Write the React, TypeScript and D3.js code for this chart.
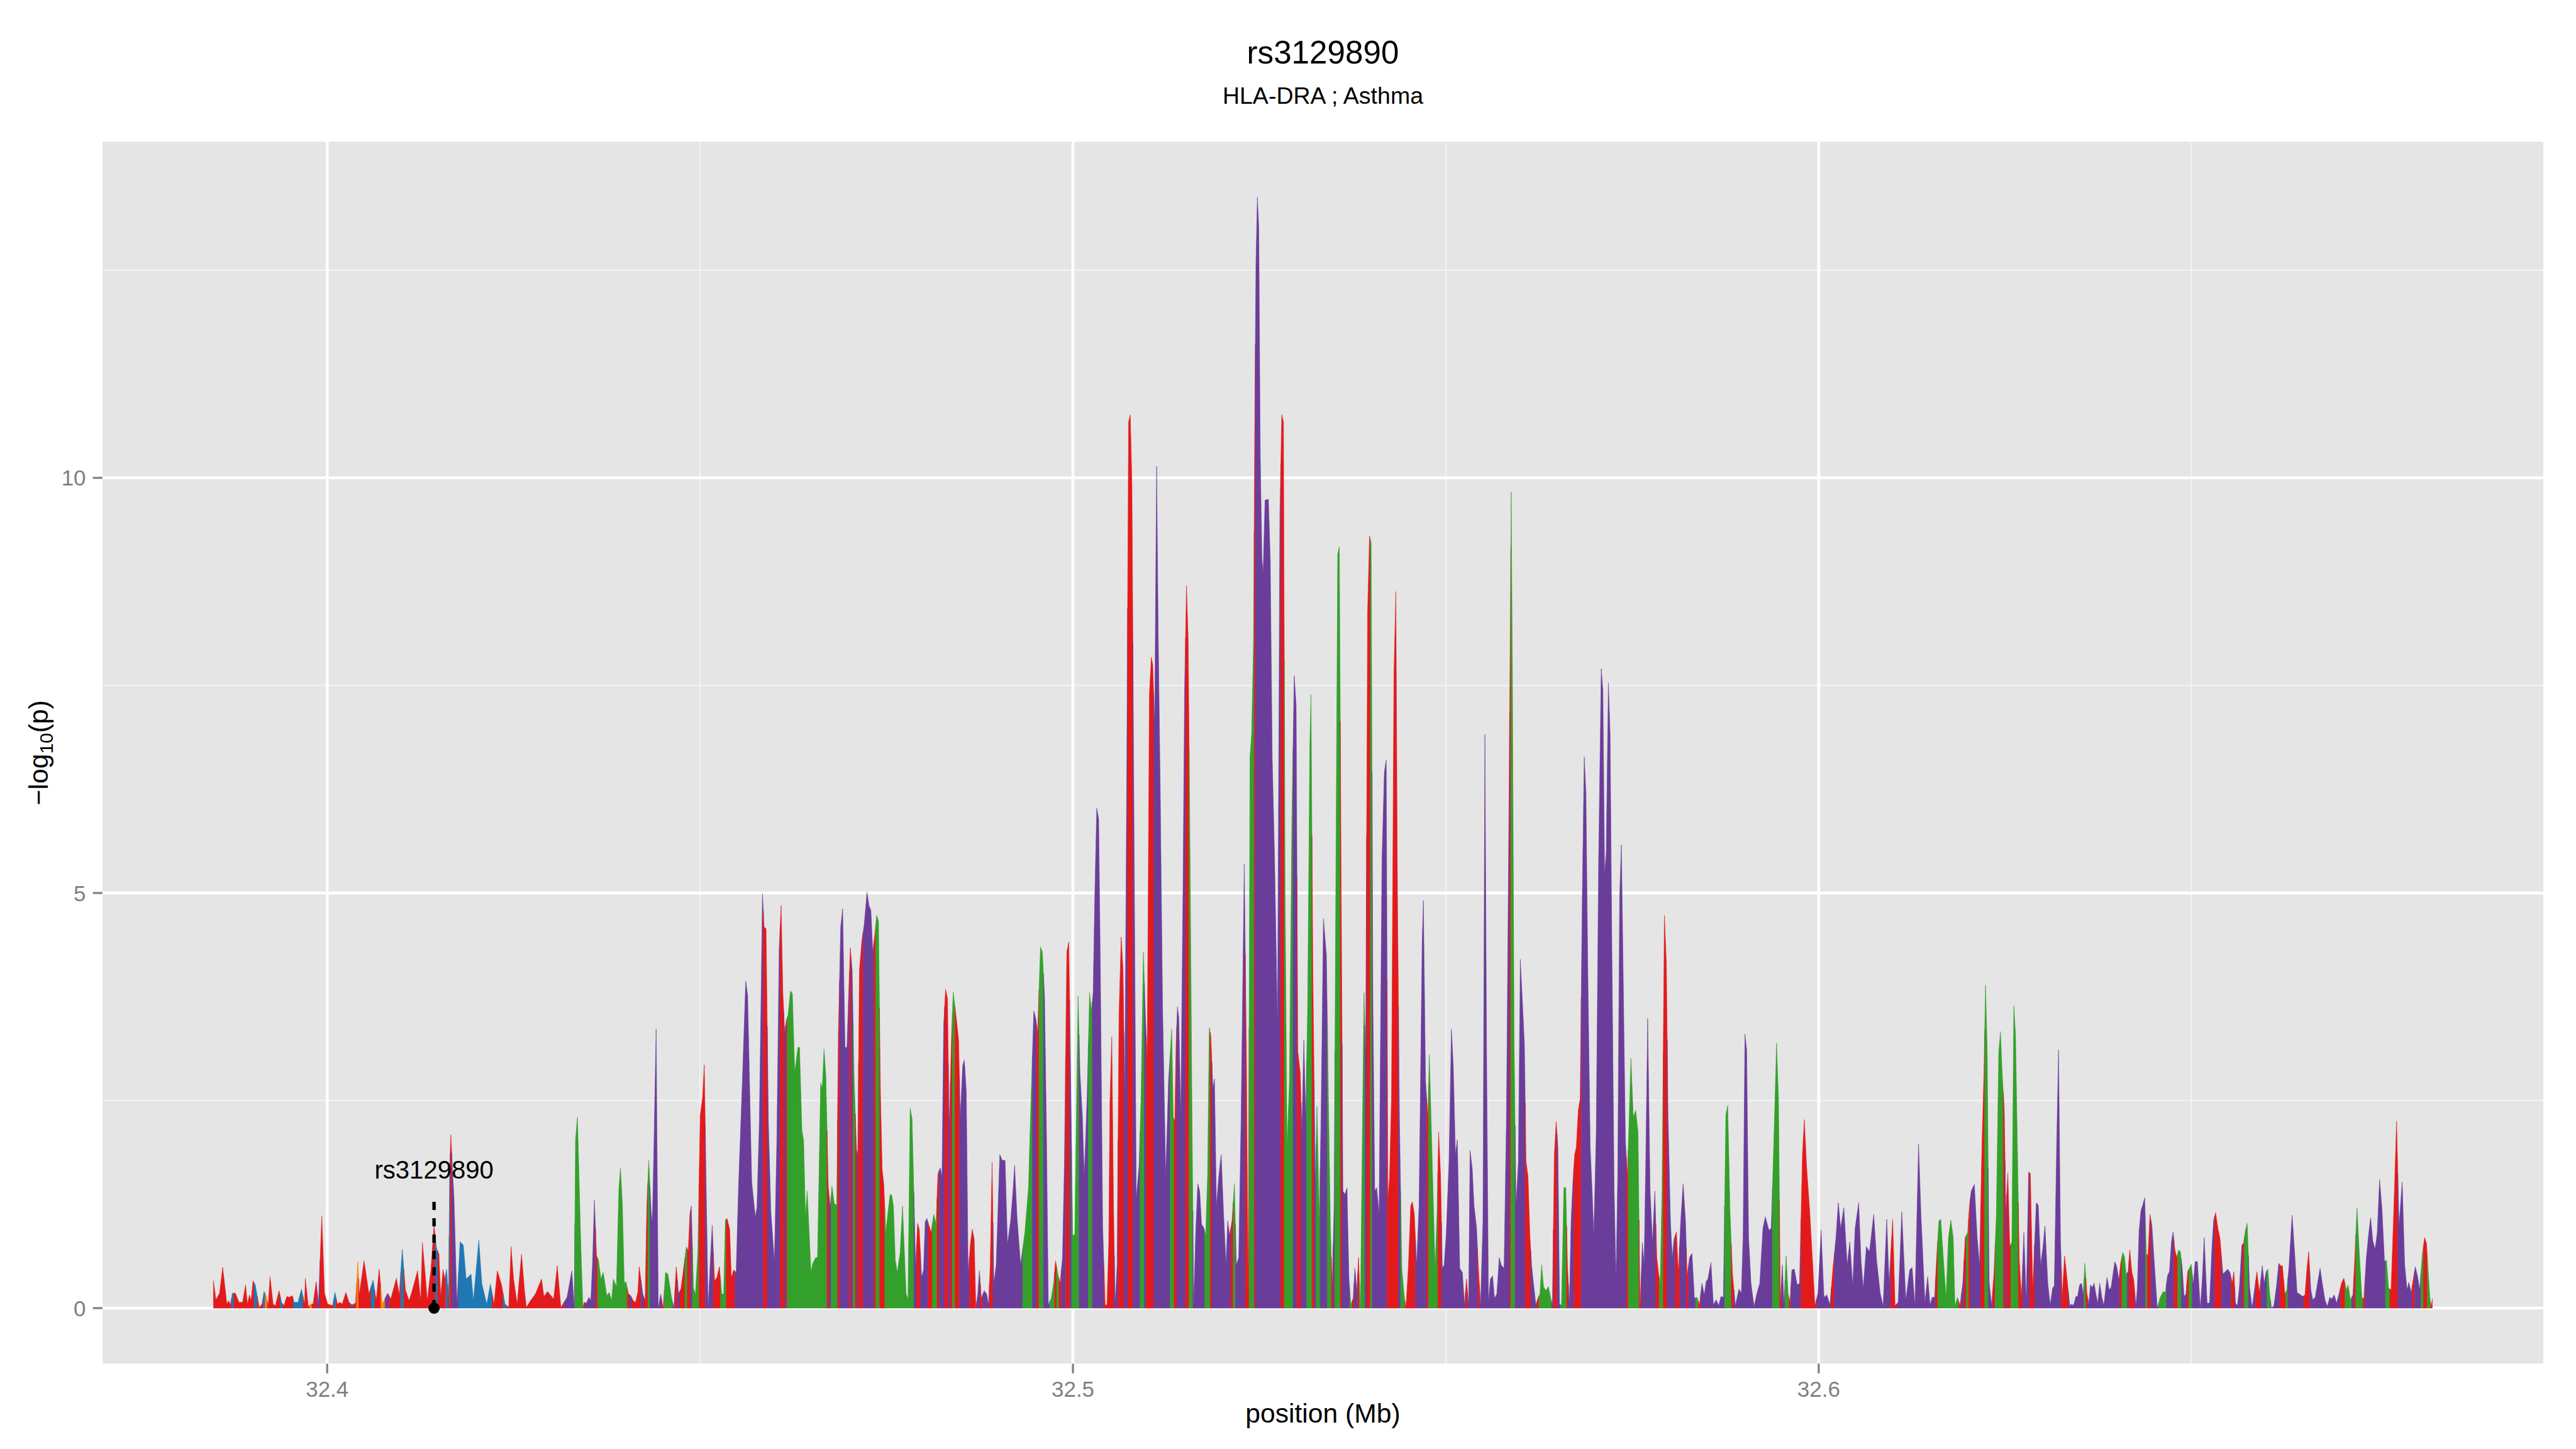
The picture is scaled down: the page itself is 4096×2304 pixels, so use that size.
import React from "react";
import * as d3 from "d3";

type Snp = [number, number, string];

// position (Mb), -log10(p), LD colour class
const regionA: Snp[] = [
  [32.38475,0.33,"R"],[32.38508,0.10,"R"],[32.38557,0.18,"R"],[32.38599,0.49,"R"],[32.38655,0.05,"R"],[32.38681,0.09,"R"],[32.38703,0.04,"R"],[32.38729,0.18,"B"],[32.38769,0.18,"R"],[32.38817,0.07,"R"],[32.38866,0.07,"R"],[32.38905,0.28,"R"],[32.38931,0.05,"R"],[32.38957,0.16,"R"],[32.3898,0.09,"R"],[32.39006,0.33,"R"],[32.39036,0.28,"B"],[32.39088,0.01,"R"],[32.39127,0.05,"R"],[32.39153,0.20,"B"],[32.39186,0.14,"O"],[32.39208,0.02,"R"],[32.39234,0.38,"R"],[32.39274,0.05,"R"],[32.39306,0.03,"R"],[32.39355,0.21,"R"],[32.39388,0.07,"B"],[32.3942,0.03,"R"],[32.39459,0.14,"R"],[32.39492,0.13,"R"],[32.39534,0.15,"R"],[32.39557,0.07,"B"],[32.39609,0.07,"B"],[32.39655,0.23,"B"],[32.39697,0.05,"R"],[32.39707,0.36,"R"],[32.39746,0.02,"R"],[32.39779,0.05,"O"],[32.39811,0.05,"R"],[32.39853,0.32,"R"],[32.39883,0.05,"P"],[32.39928,1.11,"R"],[32.39964,0.18,"R"],[32.40007,0.05,"R"],[32.40039,0.04,"R"],[32.40072,0.03,"R"],[32.40104,0.19,"B"],[32.40137,0.05,"R"],[32.40169,0.07,"R"],[32.40202,0.05,"R"],[32.40251,0.19,"R"],[32.40293,0.07,"R"],[32.40332,0.04,"P"],[32.40381,0.06,"R"],[32.40411,0.56,"O"],[32.4043,0.16,"R"],[32.40495,0.57,"R"],[32.4056,0.17,"R"],[32.40616,0.34,"B"],[32.40658,0.09,"R"],[32.40697,0.47,"R"],[32.4074,0.05,"O"],[32.40811,0.18,"P"],[32.40853,0.11,"R"],[32.40928,0.36,"R"],[32.40967,0.16,"R"],[32.41007,0.71,"B"],[32.41049,0.22,"R"],[32.41098,0.09,"R"],[32.41131,0.18,"R"],[32.41212,0.45,"R"],[32.41254,0.09,"R"],[32.41277,0.79,"R"],[32.41316,0.39,"R"],[32.41342,0.09,"R"],[32.41391,0.46,"R"],[32.41433,1.0,"R"],[32.41466,0.72,"B"],[32.41499,0.65,"R"],[32.41522,0.14,"R"],[32.41554,0.47,"R"],[32.41577,0.35,"R"],[32.41603,0.47,"B"],[32.41629,0.09,"R"],[32.41642,1.65,"B"],[32.41658,2.09,"R"],[32.41681,1.65,"P"],[32.41701,1.32,"P"],[32.4174,0.05,"P"],[32.41782,0.8,"B"],[32.41825,0.76,"B"],[32.41864,0.35,"B"],[32.41929,0.41,"B"],[32.41961,0.09,"B"],[32.42033,0.82,"B"],[32.42075,0.29,"B"],[32.4214,0.05,"B"],[32.42189,0.29,"B"],[32.42238,0.05,"R"],[32.42281,0.45,"R"],[32.42336,0.29,"R"],[32.42385,0.05,"B"],[32.42434,0.01,"R"],[32.42466,0.74,"R"],[32.42499,0.35,"R"],[32.42548,0.05,"R"],[32.42606,0.65,"R"],[32.42645,0.22,"R"],[32.42671,0.01,"R"],[32.42727,0.09,"R"],[32.42792,0.17,"R"],[32.42874,0.35,"R"],[32.42906,0.14,"R"],[32.42955,0.20,"R"],[32.43037,0.11,"R"],[32.43085,0.51,"R"],[32.43134,0.01,"R"],[32.43216,0.13,"P"],[32.43281,0.45,"P"],[32.43313,0.01,"P"],[32.4333,2.03,"G"],[32.43356,2.3,"G"],[32.43401,0.78,"G"],
];

const regionB: Snp[] = [
  [32.43429,0.0,"G"],[32.43445,0.07,"R"],[32.43477,0.06,"P"],[32.43509,0.13,"P"],[32.43535,0.09,"P"],[32.43558,0.54,"P"],[32.43583,1.30,"P"],[32.43612,0.63,"R"],[32.43638,0.58,"G"],[32.4367,0.35,"G"],[32.43702,0.43,"G"],[32.4375,0.15,"G"],[32.43782,0.19,"G"],[32.43814,0.09,"G"],[32.43837,0.35,"G"],[32.43879,0.26,"G"],[32.43911,1.43,"G"],[32.43933,1.69,"G"],[32.43959,1.24,"G"],[32.43984,0.30,"G"],[32.44007,0.32,"G"],[32.44039,0.17,"R"],[32.44071,0.15,"P"],[32.44103,0.09,"R"],[32.44135,0.07,"R"],[32.44167,0.20,"R"],[32.44184,0.50,"R"],[32.44232,0.17,"P"],[32.44264,0.09,"R"],[32.44286,1.23,"R"],[32.44312,1.78,"G"],[32.44344,1.17,"P"],[32.4436,1.02,"P"],[32.44383,2.02,"P"],[32.44411,3.36,"P"],[32.4444,0.0,"P"],[32.44472,0.17,"P"],[32.44505,0.0,"R"],[32.44537,0.43,"G"],[32.44569,0.41,"G"],[32.44617,0.13,"G"],[32.44649,0.0,"P"],[32.44681,0.50,"R"],[32.44713,0.17,"P"],[32.44745,0.24,"R"],[32.44777,0.46,"R"],[32.44816,0.74,"G"],[32.44842,0.69,"R"],[32.44864,1.13,"R"],[32.44883,1.23,"P"],[32.44912,0.24,"G"],[32.44938,0.17,"G"],[32.4497,0.67,"G"],[32.45002,2.32,"R"],[32.45034,2.54,"R"],[32.45057,2.93,"R"],[32.45082,1.47,"P"],[32.45108,0.0,"P"],[32.4514,0.61,"P"],[32.45163,1.0,"P"],[32.45195,0.33,"R"],[32.45227,0.37,"R"],[32.45259,0.50,"R"],[32.45291,0.17,"G"],[32.45317,0.17,"G"],[32.45339,1.06,"G"],[32.45362,1.08,"R"],[32.45397,0.95,"R"],[32.45419,0.37,"R"],[32.45451,0.46,"R"],[32.45484,0.43,"P"],[32.45516,1.47,"P"],[32.45564,2.65,"P"],[32.45612,3.94,"P"],[32.45638,3.77,"P"],[32.45667,2.58,"P"],[32.45693,1.52,"P"],[32.45741,1.10,"P"],[32.45763,1.21,"P"],[32.45795,2.25,"P"],[32.45837,4.99,"P"],[32.45859,4.59,"R"],[32.45885,4.57,"R"],[32.45917,2.21,"P"],[32.45949,1.17,"P"],[32.45997,0.56,"P"],[32.46029,1.99,"P"],[32.46061,4.33,"P"],[32.46087,4.85,"R"],[32.4611,3.81,"R"],[32.46135,3.32,"P"],[32.46158,3.47,"R"],[32.4618,3.53,"G"],[32.46212,3.82,"G"],[32.46238,3.79,"G"],[32.4627,2.84,"G"],[32.46312,3.14,"G"],[32.46334,3.14,"G"],[32.46366,2.14,"G"],[32.46389,2.02,"G"],[32.46414,1.10,"G"],[32.46437,1.41,"G"],[32.46488,0.43,"G"],[32.46511,0.54,"G"],[32.46552,0.61,"G"],[32.46575,0.61,"G"],[32.46617,2.71,"G"],[32.46639,2.65,"G"],[32.46662,3.12,"G"],[32.46687,2.80,"G"],[32.46719,1.47,"R"],[32.46745,1.21,"P"],[32.46768,1.47,"G"],[32.468,1.26,"G"],[32.46832,1.24,"G"],[32.46854,3.29,"R"],[32.46886,4.59,"P"],[32.46912,4.81,"P"],[32.46944,3.14,"P"],[32.4697,3.14,"P"],[32.46992,3.77,"P"],[32.47015,4.34,"R"],[32.4704,4.07,"P"],[32.47066,2.77,"G"],[32.47098,1.91,"R"],[32.47114,1.84,"P"],[32.47137,4.07,"R"],[32.47169,4.42,"R"],[32.47201,4.62,"P"],[32.47239,5.01,"P"],[32.47265,4.85,"P"],[32.47291,4.79,"P"],[32.47316,4.29,"P"],[32.47345,4.51,"R"],[32.47368,4.73,"G"],[32.47393,4.66,"G"],[32.47419,2.58,"R"],[32.47442,1.67,"R"],[32.47464,1.49,"R"],[32.4749,0.91,"G"],[32.47522,1.17,"G"],[32.47548,1.37,"G"],[32.4757,1.36,"G"],[32.47593,1.23,"G"],[32.47618,0.58,"G"],[32.47644,0.43,"G"],[32.47683,0.67,"G"],[32.47715,1.23,"G"],[32.47763,0.17,"G"],[32.47788,0.11,"G"],[32.47817,2.41,"G"],[32.47843,2.28,"G"],[32.47891,0.50,"P"],[32.47917,1.02,"R"],[32.47939,0.95,"R"],[32.47971,0.37,"P"],[32.47997,0.46,"P"],[32.48019,1.04,"P"],[32.48042,1.08,"P"],[32.48074,0.98,"R"],[32.481,0.91,"R"],[32.48132,1.13,"G"],[32.48164,1.02,"G"],[32.4819,1.62,"R"],[32.48222,1.69,"P"],[32.48244,1.58,"P"],[32.48267,3.42,"P"],[32.48292,3.84,"R"],[32.48318,3.73,"R"],[32.4834,2.17,"P"],[32.48373,3.29,"R"],[32.48395,3.81,"G"],
];

const regionC: Snp[] = [
  [32.48441,3.45,"R"],[32.48467,3.23,"R"],[32.48489,2.30,"P"],[32.48522,2.92,"P"],[32.48544,2.99,"P"],[32.4857,2.61,"P"],[32.48595,0.43,"P"],[32.48627,0.79,"R"],[32.4865,0.95,"R"],[32.48676,0.83,"R"],[32.48698,0.0,"R"],[32.48724,0.17,"P"],[32.48746,0.45,"P"],[32.48772,0.12,"R"],[32.4881,0.21,"P"],[32.48843,0.17,"P"],[32.48868,0.04,"P"],[32.48891,0.52,"R"],[32.48916,1.76,"R"],[32.48939,0.30,"P"],[32.48971,0.52,"P"],[32.49019,1.85,"P"],[32.49051,1.78,"P"],[32.4909,1.78,"P"],[32.49122,0.77,"P"],[32.49164,1.05,"P"],[32.49196,1.41,"P"],[32.49218,1.72,"P"],[32.4925,1.10,"P"],[32.49298,0.52,"P"],[32.49356,0.92,"G"],[32.49404,1.45,"G"],[32.49436,2.47,"G"],[32.49475,3.58,"P"],[32.49501,3.49,"P"],[32.49526,3.32,"R"],[32.49565,4.35,"G"],[32.4959,4.29,"G"],[32.49619,3.76,"P"],[32.49645,2.12,"P"],[32.4967,0.04,"P"],[32.49709,0.12,"G"],[32.49741,0.30,"G"],[32.49767,0.57,"R"],[32.49796,0.42,"G"],[32.49828,0.30,"R"],[32.4986,0.61,"P"],[32.49886,1.76,"P"],[32.49918,4.29,"R"],[32.49944,4.41,"R"],[32.49966,3.01,"P"],[32.49998,0.88,"G"],[32.50024,0.88,"G"],[32.50046,2.30,"G"],[32.50069,3.76,"G"],[32.50094,2.83,"P"],[32.50127,2.30,"P"],[32.50152,1.59,"P"],[32.50191,2.56,"P"],[32.50223,3.80,"G"],[32.50249,3.58,"G"],[32.50271,3.80,"P"],[32.50293,4.96,"P"],[32.50319,6.02,"P"],[32.50345,5.89,"P"],[32.50367,4.16,"P"],[32.50399,0.97,"P"],[32.50432,0.04,"R"],[32.50457,0.04,"R"],[32.5048,0.79,"R"],[32.50496,2.47,"R"],[32.50521,3.27,"R"],[32.50544,1.23,"R"],[32.50566,0.04,"P"],[32.50592,0.52,"P"],[32.50618,3.54,"R"],[32.50647,4.47,"R"],[32.50672,4.07,"R"],[32.50695,2.56,"P"],[32.5072,6.20,"P"],[32.50746,10.67,"R"],[32.50769,10.76,"R"],[32.50791,9.92,"R"],[32.50817,6.11,"P"],[32.50849,1.32,"P"],[32.50887,1.72,"P"],[32.50913,2.52,"G"],[32.50945,4.29,"G"],[32.50971,3.54,"P"],[32.50996,3.01,"R"],[32.51025,7.39,"R"],[32.51051,7.84,"R"],[32.5107,7.75,"R"],[32.51096,7.04,"P"],[32.51122,10.14,"P"],[32.51144,8.06,"P"],[32.5117,6.29,"P"],[32.51202,3.63,"P"],[32.51244,1.59,"P"],[32.51282,2.74,"P"],[32.51324,3.36,"G"],[32.51346,2.30,"G"],[32.51366,2.25,"R"],[32.51382,3.14,"R"],[32.51401,3.63,"P"],[32.5142,3.49,"P"],[32.51446,2.30,"P"],[32.51475,4.96,"P"],[32.51497,7.44,"P"],[32.51523,8.70,"R"],[32.51545,8.06,"R"],[32.51571,5.40,"G"],[32.51597,2.30,"G"],[32.51619,0.04,"P"],[32.51645,0.88,"P"],[32.51674,1.50,"P"],[32.51699,1.41,"P"],[32.51725,1.01,"P"],[32.51754,0.97,"P"],[32.5178,0.88,"G"],[32.51805,1.59,"G"],[32.51828,3.38,"G"],[32.5185,3.27,"R"],[32.51876,2.65,"P"],[32.51898,2.76,"P"],[32.51924,1.23,"P"],[32.51956,1.59,"P"],[32.51988,1.85,"P"],[32.5202,1.14,"P"],[32.52053,0.52,"P"],[32.52075,1.05,"P"],[32.52101,0.88,"P"],[32.52133,1.05,"R"],[32.52165,1.50,"G"],[32.52191,0.52,"P"],[32.52223,0.61,"P"],[32.52255,2.30,"P"],[32.52297,5.35,"P"],[32.52325,3.18,"R"],[32.52351,0.12,"R"],[32.52374,6.64,"G"],[32.52396,6.91,"G"],[32.52422,8.06,"G"],[32.52438,10.63,"R"],[32.52454,12.58,"P"],[32.52473,13.38,"P"],[32.52492,13.02,"P"],[32.52512,10.27,"P"],[32.52534,9.03,"P"],[32.5255,8.86,"P"],[32.52576,9.73,"P"],[32.52598,9.74,"P"],[32.52621,9.74,"P"],[32.52646,9.03,"P"],[32.52672,6.64,"P"],[32.52704,5.40,"P"],[32.52743,3.40,"P"],[32.52775,9.57,"P"],[32.528,10.76,"R"],[32.52823,10.67,"R"],[32.52845,4.96,"G"],[32.52871,1.94,"G"],[32.52903,2.74,"G"],[32.52935,5.84,"G"],[32.52967,7.62,"P"],[32.52993,7.26,"P"],[32.53016,3.09,"R"],[32.53048,2.83,"R"],[32.5307,2.12,"P"],[32.53096,3.23,"P"],[32.53121,2.30,"P"],[32.53147,3.63,"G"],[32.53176,6.77,"G"],[32.53192,7.39,"G"],[32.53218,3.98,"R"],[32.5325,1.50,"P"],[32.53272,2.43,"G"],[32.53304,1.05,"G"],[32.53327,2.30,"P"],[32.53359,4.69,"P"],
];

const regionD: Snp[] = [
  [32.53399,4.25,"P"],[32.53425,2.56,"G"],[32.53453,0.97,"G"],[32.53476,0.26,"R"],[32.53502,1.23,"P"],[32.53524,4.96,"G"],[32.5355,9.08,"G"],[32.53572,9.17,"G"],[32.53598,4.96,"R"],[32.5362,1.41,"P"],[32.53646,1.37,"P"],[32.53675,1.45,"P"],[32.53701,0.35,"P"],[32.53726,0.04,"G"],[32.53758,0.12,"R"],[32.53781,0.48,"P"],[32.53807,0.21,"P"],[32.53829,0.61,"R"],[32.53855,0.0,"G"],[32.5388,2.03,"G"],[32.53903,3.80,"G"],[32.53925,3.01,"P"],[32.53951,8.37,"R"],[32.53977,9.30,"R"],[32.53999,9.21,"G"],[32.54022,3.71,"P"],[32.54047,1.41,"P"],[32.54073,1.45,"P"],[32.54105,1.14,"P"],[32.54144,5.40,"P"],[32.54176,6.46,"P"],[32.54201,6.60,"P"],[32.54224,1.32,"R"],[32.54246,1.59,"R"],[32.54272,2.56,"R"],[32.54304,7.62,"R"],[32.5433,8.63,"R"],[32.54352,4.96,"R"],[32.54378,2.30,"P"],[32.5441,0.48,"G"],[32.54439,0.17,"G"],[32.54465,0.0,"R"],[32.54497,0.48,"R"],[32.54529,1.23,"R"],[32.54551,1.28,"R"],[32.54577,1.14,"R"],[32.54609,0.52,"P"],[32.54641,1.23,"P"],[32.54683,4.42,"P"],[32.54699,4.91,"P"],[32.54728,2.74,"P"],[32.5476,2.30,"R"],[32.54779,3.05,"G"],[32.54802,2.30,"G"],[32.54834,1.23,"G"],[32.54856,0.48,"G"],[32.54882,1.14,"G"],[32.54904,2.12,"R"],[32.5493,1.59,"R"],[32.54953,0.48,"P"],[32.54978,0.52,"P"],[32.55004,0.88,"P"],[32.55043,1.76,"P"],[32.55075,3.36,"P"],[32.551,2.92,"P"],[32.55129,1.85,"P"],[32.55155,2.03,"P"],[32.55187,0.48,"P"],[32.55222,0.43,"P"],[32.55251,0.04,"P"],[32.55277,0.35,"R"],[32.55306,0.04,"P"],[32.55325,1.90,"P"],[32.55354,1.68,"P"],[32.55379,1.23,"P"],[32.55412,0.97,"P"],[32.55437,0.48,"R"],[32.55466,0.04,"P"],[32.55498,1.05,"P"],[32.55524,6.91,"P"],[32.55546,3.18,"P"],[32.55572,0.08,"P"],[32.55598,0.35,"P"],[32.55627,0.39,"P"],[32.55652,0.12,"P"],[32.55684,0.17,"P"],[32.55717,0.61,"P"],[32.55742,0.52,"P"],[32.55781,0.48,"P"],[32.55813,2.30,"P"],[32.55845,5.84,"P"],[32.55867,8.50,"R"],[32.55877,9.83,"G"],[32.55893,7.62,"G"],[32.55916,3.18,"G"],[32.55941,1.23,"P"],[32.55973,1.76,"P"],[32.55999,4.20,"P"],[32.56021,3.80,"P"],[32.56054,3.18,"P"],[32.56076,1.76,"R"],[32.56102,1.59,"R"],[32.56127,0.88,"R"],[32.5615,0.52,"P"],[32.56175,0.30,"P"],[32.56208,0.04,"P"],[32.56236,0.12,"R"],[32.56262,0.17,"G"],[32.56285,0.52,"G"],[32.5631,0.26,"G"],[32.56342,0.21,"G"],[32.56375,0.26,"G"],[32.56407,0.12,"G"],[32.56429,0.04,"P"],[32.56455,1.85,"R"],[32.5648,2.25,"R"],[32.56503,1.94,"P"],[32.56525,0.04,"P"],[32.56551,0.04,"G"],[32.56583,1.45,"G"],[32.56609,1.45,"G"],[32.56631,0.52,"R"],[32.56657,0.04,"P"],[32.5668,1.05,"P"],[32.56705,1.54,"P"],[32.56728,1.85,"R"],[32.5675,1.94,"R"],[32.56776,2.38,"R"],[32.56801,2.52,"R"],[32.5683,4.96,"P"],[32.56856,6.64,"P"],[32.56879,6.20,"P"],[32.56904,4.07,"P"],[32.56936,1.94,"P"],[32.56962,1.41,"P"],[32.56984,0.88,"P"],[32.57017,2.12,"P"],[32.57049,5.40,"P"],[32.57084,7.70,"P"],[32.57106,7.44,"P"],[32.57129,5.22,"P"],[32.57151,5.49,"P"],[32.5718,7.53,"P"],[32.57203,6.91,"P"],[32.57225,4.51,"P"],[32.57257,1.41,"P"],[32.57283,0.35,"P"],[32.57305,1.59,"P"],[32.57331,4.96,"P"],[32.57354,5.58,"P"],[32.57379,3.98,"P"],[32.57408,2.03,"P"],[32.57434,1.59,"R"],[32.57456,2.21,"G"],[32.57482,3.01,"G"],[32.57514,2.30,"G"],[32.57546,2.38,"G"],[32.57578,2.12,"G"],[32.57604,0.0,"R"],[32.57636,0.79,"P"],[32.57659,0.52,"P"],[32.57681,1.76,"P"],[32.57707,3.49,"P"],[32.57739,1.41,"P"],[32.57771,0.79,"P"],[32.57803,1.41,"P"],[32.57829,0.61,"R"],[32.57851,0.43,"R"],[32.57874,0.30,"G"],[32.57899,1.41,"G"],[32.57931,4.73,"R"],[32.57957,4.16,"R"],[32.5798,2.30,"P"],[32.58012,1.05,"P"],[32.58037,0.61,"P"],[32.5806,0.83,"P"],[32.58092,0.92,"R"],[32.58118,0.43,"R"],[32.5815,1.05,"P"],[32.58182,1.50,"P"],[32.58214,1.05,"P"],[32.58236,0.39,"R"],[32.58268,0.61,"P"],[32.58301,0.66,"P"],[32.58333,0.12,"P"],
];

const regionE: Snp[] = [
  [32.58369,0.13,"G"],[32.58401,0.04,"R"],[32.58434,0.30,"P"],[32.58466,0.16,"P"],[32.58491,0.32,"P"],[32.58514,0.35,"P"],[32.58555,0.55,"P"],[32.58588,0.04,"P"],[32.58626,0.10,"P"],[32.58658,0.03,"P"],[32.5869,0.14,"P"],[32.58722,0.13,"P"],[32.58755,2.33,"G"],[32.5878,2.44,"G"],[32.58812,1.13,"G"],[32.58844,0.41,"R"],[32.58883,0.03,"P"],[32.58931,0.23,"P"],[32.58963,0.18,"P"],[32.58986,0.85,"P"],[32.59011,3.30,"P"],[32.59034,3.11,"P"],[32.5906,0.85,"P"],[32.59092,0.30,"P"],[32.59133,0.02,"P"],[32.59172,0.18,"P"],[32.5921,0.30,"P"],[32.59252,0.96,"P"],[32.59284,1.10,"P"],[32.59332,0.94,"P"],[32.59364,0.96,"P"],[32.59397,1.97,"G"],[32.59435,3.19,"G"],[32.59461,2.52,"G"],[32.59486,0.07,"R"],[32.59512,0.52,"P"],[32.59535,0.04,"P"],[32.59563,0.63,"G"],[32.59589,0.18,"G"],[32.59615,0.07,"R"],[32.5964,0.46,"P"],[32.59673,0.47,"P"],[32.59711,0.28,"P"],[32.59743,0.30,"P"],[32.59782,1.85,"R"],[32.59807,2.27,"R"],[32.59839,1.69,"R"],[32.59878,1.19,"R"],[32.59917,0.57,"R"],[32.59949,0.03,"R"],[32.5999,0.18,"P"],[32.60032,0.94,"P"],[32.60071,0.13,"P"],[32.60109,0.16,"P"],[32.60151,0.04,"P"],[32.60189,0.46,"R"],[32.60231,0.85,"P"],[32.60263,1.27,"P"],[32.60295,0.96,"P"],[32.60337,1.21,"P"],[32.60382,0.52,"P"],[32.60417,0.80,"P"],[32.60456,0.27,"P"],[32.60488,0.96,"P"],[32.60536,1.27,"P"],[32.60568,0.57,"P"],[32.60597,0.24,"P"],[32.60639,0.74,"P"],[32.60681,0.68,"P"],[32.60738,1.13,"P"],[32.60777,0.57,"P"],[32.60825,0.18,"P"],[32.60864,0.02,"P"],[32.60912,1.07,"P"],[32.60944,0.30,"P"],[32.60992,1.07,"R"],[32.61024,0.03,"R"],[32.61066,0.07,"P"],[32.61114,1.16,"P"],[32.61168,0.10,"P"],[32.6122,0.46,"P"],[32.61252,0.49,"P"],[32.6129,0.03,"P"],[32.61339,1.98,"P"],[32.61371,1.13,"P"],[32.61425,0.07,"P"],[32.61461,0.38,"P"],[32.61493,0.04,"P"],[32.61522,0.13,"P"],[32.61554,0.13,"P"],[32.61579,0.57,"R"],[32.61611,1.05,"G"],[32.61637,1.07,"G"],[32.61669,0.63,"G"],[32.61708,0.13,"G"],[32.6174,0.85,"G"],[32.61772,1.06,"G"],[32.61804,0.85,"G"],[32.61827,0.03,"G"],[32.61862,0.13,"G"],[32.61894,0.03,"R"],[32.61932,0.30,"P"],[32.61965,0.85,"R"],[32.61997,0.91,"G"],[32.62022,1.24,"R"],[32.62045,1.41,"P"],[32.62087,1.49,"P"],[32.62125,0.85,"P"],[32.62157,0.52,"P"],[32.62189,1.97,"R"],[32.62215,2.80,"R"],[32.62237,3.89,"G"],[32.6226,3.08,"G"],[32.62286,0.30,"P"],[32.62318,0.04,"P"],[32.6235,0.41,"R"],[32.62382,1.13,"G"],[32.62414,3.08,"G"],[32.62437,3.33,"G"],[32.62462,2.80,"G"],[32.62488,2.41,"R"],[32.6251,1.13,"P"],[32.62536,1.63,"R"],[32.62562,0.74,"R"],[32.6259,0.80,"G"],[32.62616,3.64,"G"],[32.62639,3.30,"G"],[32.62664,1.97,"G"],[32.6269,0.57,"R"],[32.62719,0.13,"R"],[32.62751,0.91,"P"],[32.62783,0.07,"P"],[32.62815,1.64,"P"],[32.62838,1.62,"R"],[32.6287,0.24,"R"],[32.62918,1.27,"P"],[32.62944,1.24,"P"],[32.62976,0.52,"P"],[32.63008,0.74,"P"],[32.63034,0.99,"P"],[32.63072,0.30,"P"],[32.63104,0.04,"P"],[32.63136,0.24,"P"],[32.63159,0.27,"P"],[32.63191,1.97,"P"],[32.63216,3.11,"P"],[32.63242,0.85,"P"],[32.63265,0.13,"R"],[32.63297,0.63,"R"],
];

const regionF: Snp[] = [
  [32.63328,0.37,"R"],[32.63367,0.03,"P"],[32.63393,0.05,"P"],[32.63416,0.03,"P"],[32.63449,0.14,"P"],[32.63472,0.14,"P"],[32.63498,0.28,"P"],[32.63524,0.30,"P"],[32.63547,0.16,"P"],[32.63569,0.54,"G"],[32.63595,0.19,"R"],[32.63621,0.05,"P"],[32.63644,0.28,"P"],[32.6367,0.25,"P"],[32.63693,0.30,"P"],[32.63719,0.16,"P"],[32.63742,0.06,"P"],[32.63768,0.30,"P"],[32.63797,0.13,"P"],[32.63823,0.03,"P"],[32.63866,0.37,"P"],[32.63895,0.22,"P"],[32.63921,0.25,"P"],[32.6397,0.56,"P"],[32.63996,0.50,"P"],[32.64025,0.34,"P"],[32.64052,0.56,"R"],[32.64078,0.67,"G"],[32.641,0.62,"G"],[32.64123,0.41,"G"],[32.64149,0.44,"P"],[32.64172,0.70,"R"],[32.64198,0.44,"R"],[32.64224,0.34,"R"],[32.64254,0.03,"P"],[32.64273,0.25,"P"],[32.64296,0.93,"P"],[32.64322,1.18,"P"],[32.64345,1.24,"P"],[32.64371,1.33,"P"],[32.64394,0.64,"G"],[32.64416,0.65,"R"],[32.64442,1.13,"R"],[32.64468,0.99,"P"],[32.64501,0.53,"P"],[32.6454,0.0,"P"],[32.64579,0.13,"G"],[32.64622,0.20,"G"],[32.64648,0.19,"G"],[32.64677,0.39,"P"],[32.64703,0.44,"P"],[32.64729,0.79,"P"],[32.64752,0.92,"P"],[32.64775,0.71,"R"],[32.64801,0.61,"R"],[32.64827,0.70,"G"],[32.6485,0.68,"G"],[32.64873,0.50,"P"],[32.64899,0.14,"P"],[32.64925,0.17,"P"],[32.64948,0.44,"R"],[32.6498,0.50,"G"],[32.64996,0.53,"G"],[32.65022,0.28,"P"],[32.65048,0.56,"P"],[32.65078,0.56,"P"],[32.65117,0.0,"P"],[32.65143,0.34,"P"],[32.65169,0.85,"P"],[32.65208,0.06,"P"],[32.65241,0.06,"P"],[32.65274,0.75,"P"],[32.65296,1.06,"P"],[32.65322,1.15,"R"],[32.65355,0.95,"R"],[32.65381,0.84,"R"],[32.6542,0.41,"P"],[32.65452,0.44,"P"],[32.65485,0.47,"P"],[32.65518,0.42,"P"],[32.65544,0.30,"R"],[32.65567,0.44,"R"],[32.65589,0.06,"P"],[32.65615,0.03,"P"],[32.65641,0.25,"P"],[32.65674,0.76,"P"],[32.65697,0.78,"R"],[32.6572,0.93,"G"],[32.65746,1.02,"G"],[32.65778,0.25,"P"],[32.65811,0.0,"P"],[32.65843,0.22,"P"],[32.65876,0.44,"R"],[32.65909,0.19,"R"],[32.65948,0.51,"P"],[32.65974,0.30,"P"],[32.66,0.44,"P"],[32.66023,0.47,"G"],[32.66045,0.19,"G"],[32.66071,0.0,"P"],[32.66104,0.03,"P"],[32.66137,0.25,"P"],[32.66169,0.54,"P"],[32.66195,0.51,"R"],[32.66218,0.51,"R"],[32.66251,0.17,"R"],[32.66277,0.22,"G"],[32.66306,0.50,"P"],[32.66348,1.12,"P"],[32.66381,0.68,"P"],[32.66414,0.19,"P"],[32.66446,0.17,"P"],[32.66489,0.14,"P"],[32.66521,0.16,"R"],[32.66544,0.44,"R"],[32.6657,0.68,"R"],[32.66599,0.22,"P"],[32.66625,0.10,"P"],[32.66658,0.13,"P"],[32.66691,0.31,"P"],[32.66723,0.48,"P"],[32.66756,0.28,"P"],[32.66788,0.10,"P"],[32.66821,0.02,"P"],[32.66853,0.13,"P"],[32.6688,0.11,"P"],[32.66912,0.16,"P"],[32.66945,0.06,"P"],[32.66977,0.17,"P"],[32.6701,0.30,"R"],[32.67042,0.36,"R"],[32.67075,0.22,"G"],[32.67098,0.28,"G"],[32.6713,0.10,"G"],[32.67163,0.16,"P"],[32.67186,0.56,"R"],[32.67218,1.21,"G"],[32.67244,0.75,"G"],[32.67283,0.13,"G"],[32.6731,0.11,"R"],[32.67342,0.59,"P"],[32.67375,0.90,"P"],[32.67401,1.09,"P"],[32.6743,0.81,"P"],[32.6746,0.71,"P"],[32.67489,0.90,"P"],[32.67521,1.55,"P"],[32.67554,1.18,"P"],[32.67587,0.56,"P"],[32.67613,0.58,"G"],[32.67642,0.24,"G"],[32.67675,0.22,"R"],[32.67707,1.06,"R"],[32.67749,2.25,"R"],[32.67782,0.99,"P"],[32.67824,1.52,"P"],[32.67857,0.53,"P"],[32.67889,0.22,"P"],[32.67912,0.31,"P"],[32.67945,0.19,"P"],[32.67977,0.37,"R"],[32.68,0.50,"P"],[32.68033,0.37,"P"],[32.68059,0.22,"P"],[32.68091,0.62,"G"],[32.68124,0.85,"R"],[32.6815,0.78,"R"],[32.68173,0.44,"G"],[32.68195,0.13,"G"],[32.68215,0.01,"R"],[32.68228,0.11,"R"],
];

const xTicks = [32.4, 32.5, 32.6];
const xTickLabels = ["32.4", "32.5", "32.6"];
const xMinorTicks = [32.45, 32.55, 32.65];
const yTicks = [0, 5, 10];
const yTickLabels = ["0", "5", "10"];
const yMinorTicks = [2.5, 7.5, 12.5];

const titleText = "rs3129890";
const subtitleText = "HLA-DRA ; Asthma";
const xTitle = "position (Mb)";
const markerName = "rs3129890";
const markerPos = 32.41433;
const markerLineTop = 1.33;
const markerLabelY = 1.56;

const palette: Record<string, string> = {
  R: "#E31A1C",
  B: "#1F78B4",
  G: "#33A02C",
  P: "#6A3D9A",
  O: "#FF7F00",
};

const W = 4096;
const H = 2304;
const S = 4096 / 4800;
const FONT = "'Liberation Sans', Arial, Helvetica, sans-serif";

const panel = { left: 191 * S, right: 4739 * S, top: 264 * S, bottom: 2541 * S };

export default function App() {
  const all: Snp[] = [...regionA, ...regionB, ...regionC, ...regionD, ...regionE, ...regionF].sort(
    (a, b) => a[0] - b[0]
  );

  const xExt = d3.extent(all, (d) => d[0]) as [number, number];
  const xPad = (xExt[1] - xExt[0]) * 0.05;
  const yMax = d3.max(all, (d) => d[1]) as number;
  const x = d3
    .scaleLinear()
    .domain([xExt[0] - xPad, xExt[1] + xPad])
    .range([panel.left, panel.right]);
  const y = d3
    .scaleLinear()
    .domain([-yMax * 0.05, yMax * 1.05])
    .range([panel.bottom, panel.top]);

  // group consecutive SNPs of the same colour into runs; boundaries at midpoints
  const runs: { color: string; pts: [number, number][] }[] = [];
  let start = 0;
  for (let i = 1; i <= all.length; i++) {
    if (i === all.length || all[i][2] !== all[start][2]) {
      const e = i - 1;
      const pts: [number, number][] = [];
      if (start > 0) {
        pts.push([(all[start - 1][0] + all[start][0]) / 2, (all[start - 1][1] + all[start][1]) / 2]);
      }
      for (let k = start; k <= e; k++) pts.push([all[k][0], all[k][1]]);
      if (e < all.length - 1) {
        pts.push([(all[e][0] + all[e + 1][0]) / 2, (all[e][1] + all[e + 1][1]) / 2]);
      }
      runs.push({ color: palette[all[start][2]], pts });
      start = i;
    }
  }

  const area = d3
    .area<[number, number]>()
    .x((d) => x(d[0]))
    .y0(y(0))
    .y1((d) => y(d[1]));

  const cx = (panel.left + panel.right) / 2;
  const cy = (panel.top + panel.bottom) / 2;
  const tickLen = 18 * S;
  const tickFont = 41 * S;
  const mx = x(markerPos);

  return (
    <>
      <style>{`body{margin:0;background:#fff}`}</style>
      <svg width={W} height={H} style={{ display: "block" }} fontFamily={FONT}>
        <rect x={0} y={0} width={W} height={H} fill="#ffffff" />
        <text x={cx} y={118 * S} textAnchor="middle" fontSize={60 * S} fill="#000">
          {titleText}
        </text>
        <text x={cx} y={193 * S} textAnchor="middle" fontSize={44 * S} fill="#000">
          {subtitleText}
        </text>

        <rect
          x={panel.left}
          y={panel.top}
          width={panel.right - panel.left}
          height={panel.bottom - panel.top}
          fill="#E5E5E5"
        />
        {yMinorTicks.map((t) => (
          <line key={"ym" + t} x1={panel.left} x2={panel.right} y1={y(t)} y2={y(t)} stroke="#F2F2F2" strokeWidth={2.3} />
        ))}
        {xMinorTicks.map((t) => (
          <line key={"xm" + t} x1={x(t)} x2={x(t)} y1={panel.top} y2={panel.bottom} stroke="#F2F2F2" strokeWidth={2.3} />
        ))}
        {yTicks.map((t) => (
          <line key={"yg" + t} x1={panel.left} x2={panel.right} y1={y(t)} y2={y(t)} stroke="#FFFFFF" strokeWidth={4.6} />
        ))}
        {xTicks.map((t) => (
          <line key={"xg" + t} x1={x(t)} x2={x(t)} y1={panel.top} y2={panel.bottom} stroke="#FFFFFF" strokeWidth={4.6} />
        ))}

        <g>
          {runs.map((r, i) => (
            <path key={i} d={area(r.pts) || ""} fill={r.color} stroke={r.color} strokeWidth={0.6} strokeLinejoin="round" />
          ))}
        </g>

        <line
          x1={mx}
          x2={mx}
          y1={y(0)}
          y2={y(markerLineTop)}
          stroke="#000"
          strokeWidth={5.4}
          strokeDasharray="13 13"
        />
        <circle cx={mx} cy={y(0)} r={9} fill="#000" />
        <text x={mx} y={y(markerLabelY)} textAnchor="middle" fontSize={47 * S} fill="#000">
          {markerName}
        </text>

        {yTicks.map((t, i) => (
          <g key={"yt" + t}>
            <line x1={panel.left - tickLen} x2={panel.left} y1={y(t)} y2={y(t)} stroke="#7F7F7F" strokeWidth={3.2} />
            <text x={160 * S} y={y(t) + tickFont * 0.36} textAnchor="end" fontSize={tickFont} fill="#7F7F7F">
              {yTickLabels[i]}
            </text>
          </g>
        ))}
        {xTicks.map((t, i) => (
          <g key={"xt" + t}>
            <line x1={x(t)} x2={x(t)} y1={panel.bottom} y2={panel.bottom + tickLen} stroke="#7F7F7F" strokeWidth={3.2} />
            <text x={x(t)} y={2603 * S} textAnchor="middle" fontSize={tickFont} fill="#7F7F7F">
              {xTickLabels[i]}
            </text>
          </g>
        ))}

        <text x={cx} y={2651 * S} textAnchor="middle" fontSize={50 * S} fill="#000">
          {xTitle}
        </text>
        <text transform={`translate(${89 * S},${cy}) rotate(-90)`} textAnchor="middle" fontSize={50 * S} fill="#000">
          <tspan>{"\u2212log"}</tspan>
          <tspan fontSize={35 * S} dy={10 * S}>
            10
          </tspan>
          <tspan dy={-10 * S}>(p)</tspan>
        </text>
      </svg>
    </>
  );
}
